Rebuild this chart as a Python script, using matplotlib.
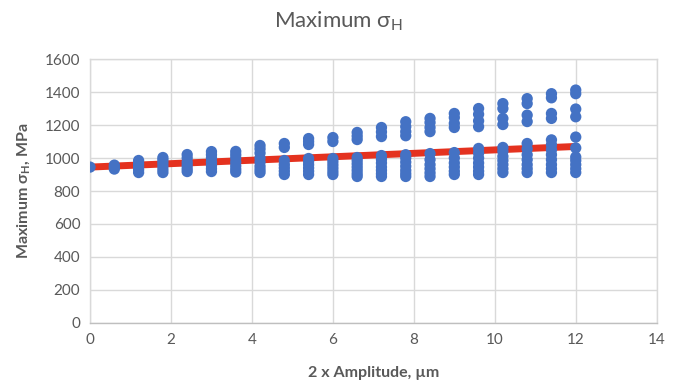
import matplotlib
matplotlib.use("Agg")
import matplotlib.pyplot as plt
import numpy as np

# ---- data ----
amplitude = [0.0, 0.6, 1.2, 1.8, 2.4, 3.0, 3.6, 4.2, 4.8, 5.4, 6.0,
             6.6, 7.2, 7.8, 8.4, 9.0, 9.6, 10.2, 10.8, 11.4, 12.0]
sigma_h = [
    [945],
    [933, 945, 957],
    [912, 930, 948, 966, 985],
    [912, 930, 950, 970, 988, 1003],
    [918, 935, 955, 975, 1000, 1021],
    [918, 935, 955, 975, 1000, 1020, 1039],
    [915, 932, 952, 975, 1000, 1020, 1040],
    [912, 930, 950, 975, 1000, 1030, 1055, 1076],
    [900, 920, 940, 960, 985, 1064, 1088],
    [900, 920, 940, 960, 980, 997, 1082, 1100, 1118],
    [900, 918, 938, 958, 978, 997, 1100, 1124],
    [888, 905, 925, 945, 965, 985, 1003, 1112, 1133, 1155],
    [888, 905, 925, 945, 970, 992, 1015, 1130, 1158, 1185],
    [888, 905, 925, 950, 975, 1000, 1020, 1135, 1160, 1190, 1220],
    [888, 910, 935, 960, 990, 1027, 1160, 1185, 1215, 1240],
    [900, 920, 945, 970, 1000, 1033, 1185, 1210, 1245, 1270],
    [900, 920, 945, 970, 1000, 1030, 1058, 1190, 1225, 1265, 1300],
    [912, 935, 960, 985, 1010, 1040, 1064, 1203, 1240, 1300, 1330],
    [912, 935, 960, 990, 1020, 1055, 1088, 1221, 1260, 1330, 1360],
    [912, 935, 960, 990, 1020, 1050, 1080, 1110, 1240, 1270, 1365, 1390],
    [912, 935, 960, 985, 1006, 1061, 1127, 1250, 1297, 1390, 1412],
]
trend_x = [0.0, 12.0]
trend_y = [945, 1070]

x_ticks = [0, 2, 4, 6, 8, 10, 12, 14]
y_ticks = [0, 200, 400, 600, 800, 1000, 1200, 1400, 1600]

# ---- style ----
plt.rcParams['font.family'] = ['Lato', 'DejaVu Sans']
plt.rcParams['mathtext.fontset'] = 'custom'
plt.rcParams['mathtext.rm'] = 'Lato'
plt.rcParams['mathtext.bf'] = 'Lato:bold'
plt.rcParams['mathtext.it'] = 'Lato:italic'

text_col = '#595959'
grid_col = '#D9D9D9'
blue = '#4472C4'
red = '#E4321F'

fig = plt.figure(figsize=(6.77, 3.91), dpi=100)
ax = fig.add_axes([0.133, 0.174, 0.837, 0.675])

xs = np.concatenate([[a] * len(v) for a, v in zip(amplitude, sigma_h)])
ys = np.concatenate([np.array(v, dtype=float) for v in sigma_h])

ax.plot(trend_x, trend_y, color=red, lw=5, solid_capstyle='butt', zorder=2)
ax.scatter(xs, ys, s=66, color=blue, edgecolors='none', zorder=3)

ax.set_xlim(0, 14)
ax.set_ylim(0, 1600)
ax.set_xticks(x_ticks)
ax.set_yticks(y_ticks)
ax.tick_params(axis='both', length=0, labelsize=11, colors=text_col, pad=7)
ax.grid(True, color=grid_col, lw=1)
ax.set_axisbelow(True)
for sp in ax.spines.values():
    sp.set_color(grid_col)
    sp.set_linewidth(1)
ax.spines['bottom'].set_color('#BFBFBF')

ax.set_xlabel('2 x Amplitude, µm', fontsize=11.5, fontweight='bold',
              color=text_col, labelpad=14)
ax.set_ylabel(r'Maximum $\mathbf{\sigma_H}$, MPa', fontsize=11.5,
              fontweight='bold', color=text_col, labelpad=9)

fig.text(0.5, 0.945, r'Maximum $\mathregular{\sigma_H}$', ha='center', va='center',
         fontsize=16, color=text_col)

fig.savefig('out.png', dpi=100)
